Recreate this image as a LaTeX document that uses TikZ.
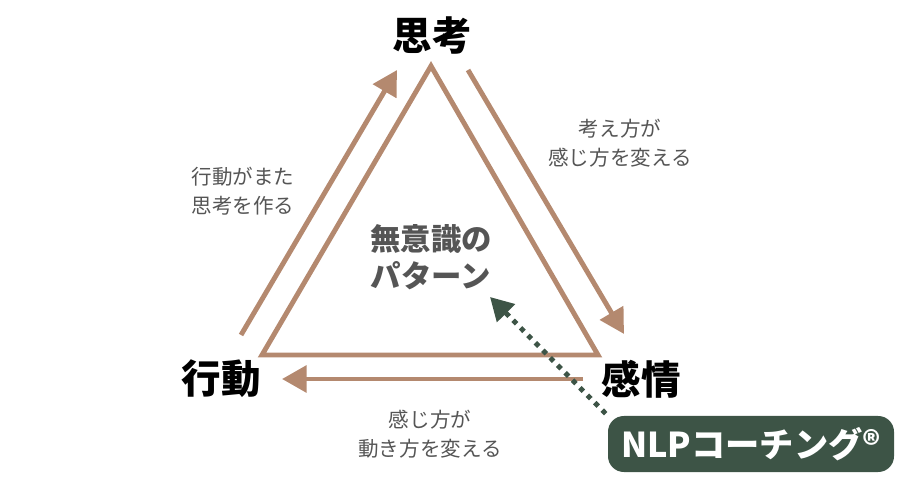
\documentclass[tikz,border=0pt]{standalone}
\usepackage{fontspec}
\setmainfont{Noto Sans CJK JP}
\usetikzlibrary{arrows.meta,positioning}

\definecolor{brownline}{RGB}{180,137,111}
\definecolor{darkgreen}{RGB}{61,84,70}
\definecolor{softgray}{RGB}{85,85,85}

\tikzset{
  corner/.style = {font=\bfseries\fontsize{22.5}{24}\selectfont, text=black},
  side/.style = {font=\fontsize{11.7}{16.5}\selectfont, text=softgray, align=center},
  flow/.style = {draw=brownline, line width=2.8pt, -{Triangle[length=14pt,width=15pt]}},
}

\begin{document}
\begin{tikzpicture}[x=0.02cm, y=-0.02cm]
\useasboundingbox (0,0) rectangle (902,482);

% triangle
\coordinate (top) at (431,66);
\coordinate (bl) at (262,355);
\coordinate (br) at (598,355);
\draw[brownline, line width=2.8pt, line join=miter] (top) -- (br) -- (bl) -- cycle;

% corner labels
\node[corner] (think) at (432,36) {思考};
\node[corner] (act) at (221,379) {行動};
\node[corner] (feel) at (641,379) {感情};

% center
\node[font=\bfseries\fontsize{17.3}{21}\selectfont, text=softgray, align=center] (pattern) at (431,257) {無意識の\\パターン};

% cycle arrows
\coordinate (a1) at (241,335);
\coordinate (a2) at (397,70);
\coordinate (b1) at (468,70);
\coordinate (b2) at (624,334);
\coordinate (c1) at (583,379);
\coordinate (c2) at (282,379);
\draw[flow] (a1) -- (a2);
\draw[flow] (b1) -- (b2);
\draw[flow] (c1) -- (c2);

% side texts
\node[side] (actthink) at (243,191) {行動がまた\\思考を作る};
\node[side] (thinkfeel) at (620,143) {考え方が\\感じ方を変える};
\node[side] (feelact) at (430,434) {感じ方が\\動き方を変える};

% NLP box
\node[fill=darkgreen, rounded corners=9pt, text=white, font=\bfseries\fontsize{19.5}{21}\selectfont,
      minimum width=286*0.02cm, minimum height=56*0.02cm] (nlp) at (751,444) {NLPコーチング®};
\coordinate (nlptip) at (490,297);
\draw[darkgreen, line width=2.8pt, dash pattern=on 2.8pt off 3.2pt,
      -{Triangle[length=13pt,width=14pt]}] (nlp.north west) ++(-2,-2) -- (nlptip);
\end{tikzpicture}
\end{document}
